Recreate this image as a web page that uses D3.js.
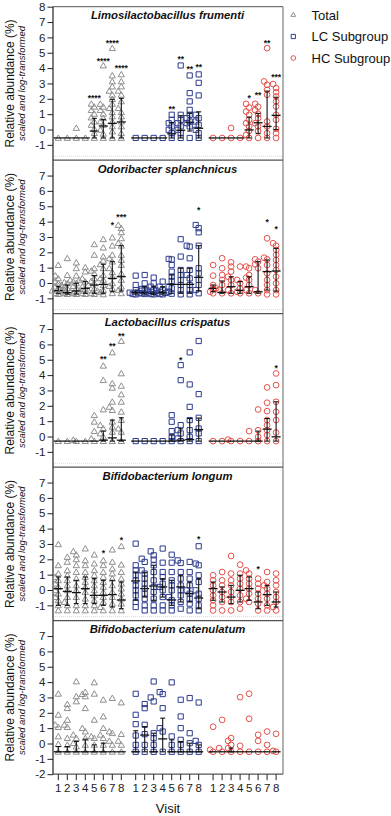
<!DOCTYPE html>
<html>
<head>
<meta charset="utf-8">
<script src="https://cdn.jsdelivr.net/npm/d3@7"></script>
<style>
html, body { margin: 0; padding: 0; background: #fff; }
svg { display: block; font-family: "Liberation Sans", Arial, sans-serif; }
</style>
</head>
<body>
<div id="chart"></div>
<script>
const taxa = ['Limosilactobacillus frumenti', 'Odoribacter splanchnicus', 'Lactobacillus crispatus', 'Bifidobacterium longum', 'Bifidobacterium catenulatum']
const visits = [1, 2, 3, 4, 5, 6, 7, 8]
const groups = ['Total', 'LC Subgroup', 'HC Subgroup']

const totalValues = [
  [[-0.55], [-0.55], [0.1, -0.55], [-0.55],
   [1.67, 1.48, 1.26, 1.02, 0.78, 0.52, 0.3, 0.04, -0.24, -0.55],
   [4.17, 1.67, 1.48, 1.26, 1.02, 0.74, 0.52, 0.3, -0.02, -0.28, -0.55],
   [5.3, 3.52, 3.13, 2.8, 2.52, 2.26, 1.98, 1.67, 1.39, 1.13, 0.85, 0.52, 0.2, -0.13, -0.55],
   [3.59, 3.13, 2.8, 2.52, 2.26, 1.83, 1.39, 1.13, 0.85, 0.52, 0.2, -0.24, -0.55]],
  [[1.17, 0.48, 0.3, 0.09, -0.02, -0.13, -0.24, -0.35, -0.46, -0.5, -0.57, -0.67, -0.72],
   [1.61, 0.52, 0.2, 0.05, -0.02, -0.24, -0.35, -0.46, -0.57, -0.67, -0.72],
   [1.33, 0.96, 0.48, 0.2, 0.09, -0.02, -0.2, -0.35, -0.5, -0.67, -0.72],
   [1.02, 0.74, 0.3, 0.09, -0.13, -0.24, -0.39, -0.5, -0.67, -0.72],
   [2.52, 1.83, 0.96, 0.8, 0.63, 0.3, 0.13, -0.02, -0.35, -0.5, -0.67, -0.72],
   [2.85, 2.3, 1.72, 1.45, 1.22, 0.96, 0.52, 0.3, 0.2, -0.13, -0.46, -0.6, -0.74],
   [2.96, 2.43, 1.83, 1.6, 1.39, 0.96, 0.7, 0.41, -0.02, -0.2, -0.35, -0.67],
   [3.78, 3.57, 3.3, 2.91, 2.6, 2.43, 1.83, 1.5, 1.17, 0.63, 0.2, -0.24, -0.45, -0.67]],
  [[-0.3], [-0.3], [-0.22, -0.3], [-0.3],
   [1.39, 0.96, 0.35, -0.13, -0.3],
   [4.61, 3.67, 1.76, 0.74, 0.52, 0.2, -0.02, -0.3],
   [5.48, 3.46, 3.17, 2.26, 1.93, 1.72, 0.96, 0.63, 0.3, -0.3],
   [6.22, 4.11, 3.3, 2.74, 2.26, 1.61, 1.07, 0.52, 0.3, -0.3]],
  [[2.98, 1.61, 1.07, 0.85, 0.63, 0.41, 0.2, -0.02, -0.24, -0.46, -0.67, -1.0, -1.33],
   [2.15, 1.83, 1.28, 0.96, 0.63, 0.3, -0.02, -0.46, -0.78, -1.0, -1.33],
   [2.52, 2.3, 2.0, 1.61, 1.17, 0.74, 0.3, -0.02, -0.46, -1.0, -1.33],
   [2.7, 1.93, 1.61, 1.17, 0.85, 0.52, 0.2, -0.13, -0.57, -1.0, -1.33],
   [2.3, 1.72, 1.28, 0.96, 0.63, 0.3, -0.02, -0.35, -0.67, -1.0, -1.33],
   [1.93, 1.61, 1.17, 0.85, 0.52, 0.2, -0.13, -0.46, -0.78, -1.11, -1.33],
   [2.63, 1.83, 1.39, 1.07, 0.74, 0.3, -0.13, -0.46, -0.89, -1.33],
   [2.85, 1.65, 1.17, 0.74, 0.41, 0.09, -0.24, -0.57, -0.89, -1.33]],
  [[3.24, 1.87, 1.22, 1.07, 0.46, -0.04, -0.54],
   [2.57, 2.3, 1.54, 1.22, 1.07, 0.35, -0.09, -0.54],
   [4.04, 3.07, 2.74, 0.57, 0.35, 0.02, -0.2, -0.54],
   [3.35, 3.22, 3.07, 2.3, 1.0, 0.78, 0.35, -0.09, -0.54],
   [3.98, 3.24, 1.54, 0.46, 0.35, -0.09, -0.54],
   [2.85, 1.76, 1.0, 0.57, 0.35, -0.09, -0.54],
   [2.96, 0.78, 0.67, 0.17, -0.09, -0.54],
   [2.67, 0.61, 0.17, -0.09, -0.54]]
]

const lcValues = [
  [[-0.55], [-0.55], [-0.55], [-0.55],
   [0.96, 0.63, 0.41, 0.2, -0.02, -0.24, -0.55],
   [4.17, 0.96, 0.63, 0.41, 0.2, -0.02, -0.24, -0.55],
   [3.52, 2.37, 1.83, 1.28, 0.96, 0.74, 0.52, 0.41, 0.2, -0.55],
   [3.59, 3.04, 2.22, 0.96, 0.74, 0.52, 0.3, -0.02, -0.24, -0.55]],
  [[0.48, -0.13, -0.46, -0.5, -0.63, -0.67, -0.72, -0.74],
   [0.52, -0.02, -0.39, -0.45, -0.63, -0.67, -0.72],
   [0.35, -0.02, -0.24, -0.46, -0.5, -0.67, -0.72, -0.74],
   [0.09, -0.24, -0.46, -0.5, -0.65, -0.72, -0.74],
   [1.57, 1.53, 1.17, 0.74, 0.41, 0.13, -0.24, -0.35, -0.57, -0.7],
   [2.85, 1.72, 0.85, 0.52, 0.2, -0.13, -0.46, -0.74],
   [2.43, 2.37, 1.61, 0.85, 0.52, 0.3, -0.13, -0.46, -0.74],
   [3.78, 3.57, 3.3, 2.43, 0.96, 0.63, 0.2, -0.13, -0.46, -0.67]],
  [[-0.3], [-0.3], [-0.3], [-0.3],
   [1.39, 0.96, 0.35, -0.02, -0.3],
   [4.65, 3.67, 0.74, 0.41, 0.2, -0.13, -0.3],
   [5.48, 3.39, 1.93, 1.07, 0.41, -0.02, -0.3],
   [6.22, 2.76, 1.22, 0.52, 0.2, -0.3]],
  [[3.02, 1.61, 1.28, 0.96, 0.63, 0.3, -0.02, -0.35, -0.78, -1.11],
   [2.04, 1.83, 1.28, 1.07, 0.74, 0.41, 0.09, -0.24, -0.57, -1.0, -1.33],
   [2.52, 2.26, 1.98, 1.61, 1.17, 0.63, 0.2, -0.13, -0.57, -1.0, -1.33],
   [2.7, 1.78, 1.17, 0.85, 0.41, 0.2, -0.02, -0.46, -1.0, -1.33],
   [2.3, 1.78, 1.17, 0.63, 0.3, -0.02, -0.46, -0.67, -1.0, -1.33],
   [1.93, 1.76, 1.17, 0.74, 0.3, -0.02, -0.35, -0.78, -1.22],
   [1.83, 1.17, 0.74, 0.3, -0.02, -0.24, -0.57, -0.89, -1.33],
   [2.85, 1.72, 1.61, 0.96, 0.52, -0.02, -0.24, -0.57, -1.0, -1.33]],
  [[3.24, 1.87, 1.26, 0.52, -0.09, -0.54],
   [2.57, 2.3, 1.22, 0.61, -0.09, -0.54],
   [4.04, 3.0, 2.74, 0.67, 0.35, -0.09, -0.54],
   [3.35, 3.22, 2.3, 1.0, 0.78, -0.54],
   [3.98, 0.46, -0.09, -0.54],
   [2.85, 1.76, 1.0, 0.24, -0.09, -0.54],
   [2.96, 0.67, 0.02, -0.54],
   [2.67, 0.17, -0.09, -0.54]]
]

const hcValues = [
  [[-0.55], [-0.55], [0.1, -0.55], [-0.55],
   [1.67, 1.43, 1.17, 0.96, 0.63, 0.41, 0.2, -0.09, -0.35, -0.55],
   [1.67, 1.48, 1.26, 1.02, 0.74, 0.41, 0.2, -0.09, -0.55],
   [5.3, 3.13, 2.91, 2.59, 2.26, 0.52, 0.2, -0.24, -0.55],
   [2.96, 2.7, 2.43, 2.15, 1.83, 1.5, 0.96, 0.63, 0.04, -0.24, -0.55]],
  [[1.17, 0.48, -0.13, -0.35, -0.4, -0.57, -0.67],
   [1.61, 0.96, 0.52, 0.2, -0.13, -0.46, -0.67],
   [1.35, 1.07, 0.74, 0.41, 0.2, -0.13, -0.46, -0.67],
   [1.07, 0.2, -0.02, -0.35, -0.57, -0.67],
   [1.07, 0.96, 0.52, 0.35, 0.2, -0.13, -0.46, -0.67],
   [1.54, 1.39, 1.22, 0.96, -0.46, -0.67],
   [2.91, 1.65, 1.54, 1.17, 0.63, 0.2, -0.13, -0.46, -0.74],
   [2.59, 2.43, 2.15, 1.83, 1.5, 1.17, 0.85, 0.41, -0.02, -0.46, -0.74]],
  [[-0.3], [-0.3], [-0.2, -0.3], [-0.3], [0.35, -0.3],
   [1.76, 0.41, -0.02, -0.3],
   [3.2, 2.2, 1.65, 1.07, 0.74, 0.41, 0.09, -0.3],
   [4.11, 3.35, 2.26, 1.61, 1.07, 0.26, -0.3]],
  [[0.96, 0.63, 0.3, -0.02, -0.35, -0.67, -1.0, -1.33],
   [1.17, 0.63, 0.3, -0.13, -0.46, -0.78, -1.33],
   [2.22, 1.07, 0.63, 0.3, -0.13, -0.46, -0.78, -1.33],
   [1.65, 1.07, 0.74, 0.41, 0.09, -0.35, -0.78, -1.22],
   [1.28, 1.07, 0.74, 0.41, 0.09, -0.24, -0.57, -0.78],
   [0.74, 0.41, 0.09, -0.24, -0.57, -0.89, -1.33],
   [1.17, 0.52, 0.3, 0.09, -0.24, -0.57, -1.0, -1.33],
   [1.07, 0.63, 0.3, -0.13, -0.46, -0.78, -1.11, -1.33]],
  [[1.09, -0.41, -0.54], [1.54, -0.3, -0.54], [0.35, 0.17, -0.09, -0.3, -0.54], [3.02, -0.15, -0.54],
   [3.24, 1.61, -0.54], [0.57, 0.17, -0.54], [0.78, -0.09, -0.54], [0.63, -0.48, -0.54]]
]

// [q1, median, q3] per visit
const totalStats = [
  [[-0.55, -0.55, -0.55], [-0.55, -0.55, -0.55], [-0.55, -0.55, -0.55], [-0.55, -0.55, -0.55],
   [-0.55, -0.1, 0.73], [-0.55, 0.23, 0.66], [-0.55, 0.4, 1.97], [-0.55, 0.49, 2.03]],
  [[-0.67, -0.5, -0.24], [-0.72, -0.63, -0.13], [-0.72, -0.52, -0.02], [-0.67, -0.35, 0.09],
   [-0.67, -0.13, 0.48], [-0.67, -0.09, 1.22], [-0.57, 0.3, 1.39], [-0.52, 0.41, 2.43]],
  [[-0.3, -0.3, -0.3], [-0.3, -0.3, -0.3], [-0.3, -0.3, -0.3], [-0.3, -0.3, -0.3],
   [-0.3, -0.3, -0.3], [-0.3, -0.24, 0.35], [-0.3, -0.09, 1.07], [-0.3, -0.24, 1.22]],
  [[-1.0, 0.09, 0.85], [-1.0, -0.09, 0.85], [-0.89, -0.17, 0.63], [-0.89, 0.09, 0.85],
   [-0.89, -0.35, 0.74], [-1.0, -0.35, 0.63], [-1.11, -0.3, 0.63], [-1.22, -0.65, 0.52]],
  [[-0.54, -0.54, -0.2], [-0.54, -0.54, -0.2], [-0.54, -0.54, 0.13], [-0.54, -0.54, 0.28],
   [-0.54, -0.54, -0.09], [-0.54, -0.54, 0.02], [-0.54, -0.54, -0.54], [-0.54, -0.54, -0.54]]
]

const lcStats = [
  [[-0.55, -0.55, -0.55], [-0.55, -0.55, -0.55], [-0.55, -0.55, -0.55], [-0.55, -0.55, -0.55],
   [-0.55, -0.28, 0.45], [-0.55, -0.05, 0.9], [-0.1, 0.47, 1.05], [-0.55, 0.08, 1.15]],
  [[-0.72, -0.63, -0.46], [-0.72, -0.63, -0.24], [-0.74, -0.67, -0.24], [-0.72, -0.63, -0.24],
   [-0.67, -0.09, 0.52], [-0.67, -0.09, 0.96], [-0.67, -0.09, 0.96], [-0.52, 0.37, 2.43]],
  [[-0.3, -0.3, -0.3], [-0.3, -0.3, -0.3], [-0.3, -0.3, -0.3], [-0.3, -0.3, -0.3],
   [-0.3, -0.3, 0.09], [-0.3, -0.24, 0.5], [-0.3, -0.2, 1.17], [-0.3, 0.45, 1.2]],
  [[-0.67, 0.59, 1.17], [-0.46, 0.09, 1.13], [-0.67, 0.26, 1.61], [-0.46, 0.2, 0.74],
   [-1.0, -0.65, 0.63], [-0.78, 0.2, 0.96], [-0.78, -0.24, 0.52], [-1.22, -0.52, 0.74]],
  [[-0.54, -0.54, 0.83], [-0.54, 0.55, 1.1], [-0.54, -0.54, 0.67], [-0.54, 0.3, 1.65],
   [-0.54, -0.54, 0.24], [-0.54, -0.54, 0.13], [-0.54, -0.54, 0.02], [-0.54, -0.54, -0.09]]
]

const hcStats = [
  [[-0.55, -0.55, -0.55], [-0.55, -0.55, -0.55], [-0.55, -0.55, -0.55], [-0.55, -0.55, -0.55],
   [-0.55, -0.03, 0.8], [-0.27, 0.44, 1.05], [-0.55, 0.2, 2.5], [0.0, 0.92, 2.1]],
  [[-0.57, -0.35, -0.13], [-0.67, -0.61, 0.13], [-0.67, -0.24, 0.41], [-0.67, -0.48, 0.09],
   [-0.67, -0.24, 0.41], [-0.67, -0.57, 1.39], [-0.46, 0.74, 1.5], [-0.52, 0.78, 2.26]],
  [[-0.3, -0.3, -0.3], [-0.3, -0.3, -0.3], [-0.3, -0.3, -0.3], [-0.3, -0.3, -0.3],
   [-0.3, -0.3, -0.3], [-0.3, -0.3, 0.35], [-0.3, 0.48, 1.17], [-0.3, -0.02, 2.26]],
  [[-0.67, 0.09, 0.52], [-0.78, -0.13, 0.2], [-0.89, -0.46, 0.3], [-0.78, -0.02, 0.96],
   [-0.67, 0.09, 0.85], [-1.22, -0.78, -0.13], [-1.0, -0.3, 0.3], [-1.11, -0.78, -0.13]],
  [[-0.54, -0.54, -0.54], [-0.54, -0.54, -0.54], [-0.54, -0.54, -0.3], [-0.54, -0.54, -0.54],
   [-0.54, -0.54, -0.54], [-0.54, -0.54, -0.54], [-0.54, -0.54, -0.54], [-0.54, -0.54, -0.54]]
]

// significance label and the value level it sits at
const totalStars = [
  [null, null, null, null, ['****', 2.15], ['****', 4.61], ['****', 5.78], ['****', 4.15]],
  [null, null, null, null, null, null, ['*', 3.87], ['***', 4.43]],
  [null, null, null, null, null, ['**', 5.2], ['**', 6.0], ['**', 6.7]],
  [null, null, null, null, null, ['*', 2.52], null, ['*', 3.35]],
  [null, null, null, null, null, null, null, null]
]
const lcStars = [
  [null, null, null, null, ['**', 1.46], ['**', 4.7], ['**', 4.07], ['**', 4.17]],
  [null, null, null, null, null, null, null, ['*', 4.87]],
  [null, null, null, null, null, ['*', 5.13], null, null],
  [null, null, null, null, null, null, null, ['*', 3.46]],
  [null, null, null, null, null, null, null, null]
]
const hcStars = [
  [null, null, null, null, ['*', 2.15], ['**', 2.37], ['**', 5.78], ['***', 3.57]],
  [null, null, null, null, null, null, ['*', 4.07], ['*', 3.67]],
  [null, null, null, null, null, null, null, ['*', 4.61]],
  [null, null, null, null, null, ['*', 1.5], null, null],
  [null, null, null, null, null, null, null, null]
]

const W = 391, H = 816
const left = 53, right = 283, top0 = 6.7, panelH = 153.5
const colors = ['#8e8e8e', '#2c3b8e', '#e4514c']
const symbols = [d3.symbol(d3.symbolTriangle, 17), d3.symbol(d3.symbolSquare, 27), d3.symbol(d3.symbolCircle, 26)]

const svg = d3.select('#chart').append('svg').attr('width', W).attr('height', H)

// visits sit in three blocks of eight with a gap between blocks
const x = d3.scaleLinear().domain([0, 24.2]).range([58.3, 276.1])
const slot = (g, v) => g * 8.6 + (v - 1)

// spread out points that would overlap, like a column scatter
function spread(values, y) {
  const placed = []
  const offs = [0, -3, 3, -6, 6]
  values.slice().sort((a, b) => a - b).forEach(v => {
    const py = y(v)
    if (placed.find(p => p.v === v)) return
    let dx = offs.find(o => !placed.some(p => Math.abs(p.dx - o) < 2.9 && Math.abs(p.py - py) < 4))
    if (dx === undefined) dx = 0
    placed.push({ v, py, dx })
  })
  return placed
}

const valueSets = [totalValues, lcValues, hcValues]
const statSets = [totalStats, lcStats, hcStats]
const starSets = [totalStars, lcStars, hcStars]

taxa.forEach((name, k) => {
  const pTop = top0 + k * panelH
  const pBot = pTop + panelH
  const y = d3.scaleLinear().domain([-2, 8]).range([pBot, pTop])
  const g = svg.append('g').attr('class', 'panel')

  // frame
  if (k === 0) g.append('line').attr('x1', left).attr('x2', right).attr('y1', pTop).attr('y2', pTop).attr('stroke', '#555').attr('stroke-width', 1)
  g.append('line').attr('x1', right).attr('x2', right).attr('y1', pTop).attr('y2', pBot).attr('stroke', '#666').attr('stroke-width', 1)
  if (k < 4) {
    g.append('line').attr('x1', left).attr('x2', right).attr('y1', pBot - 4).attr('y2', pBot - 4)
      .attr('stroke', '#ccc').attr('stroke-width', 0.8).attr('stroke-dasharray', '1,1')
  }
  g.append('line').attr('x1', left).attr('x2', right).attr('y1', pBot).attr('y2', pBot).attr('stroke', '#555').attr('stroke-width', 1.2)

  // y axis
  const ticks = k === 0 ? d3.range(-1, 9) : k === 4 ? d3.range(-2, 8) : d3.range(-1, 8)
  const ax = g.append('g').attr('transform', `translate(${left},0)`)
    .call(d3.axisLeft(y).tickValues(ticks).tickSize(5.5).tickSizeOuter(0).tickPadding(2).tickFormat(d3.format('d')))
  ax.select('.domain').remove()
  ax.selectAll('.tick line').attr('stroke', '#222')
  ax.selectAll('.tick text').attr('font-size', 11.5).attr('fill', '#222')
    .attr('font-family', '"Liberation Sans", Arial, sans-serif').text(d => d < 0 ? '-' + Math.abs(d) : d)
  g.append('line').attr('x1', left).attr('x2', left).attr('y1', pTop).attr('y2', pBot).attr('stroke', '#222').attr('stroke-width', 1.2)

  // axis title
  const cy = (pTop + pBot) / 2
  g.append('text').attr('transform', `translate(13.5,${cy}) rotate(-90)`).attr('text-anchor', 'middle')
    .attr('font-size', 12).attr('fill', '#111').text('Relative abundance (%)')
  g.append('text').attr('transform', `translate(24.5,${cy}) rotate(-90)`).attr('text-anchor', 'middle')
    .attr('font-size', 9.5).attr('font-style', 'italic').attr('fill', '#111').text('scaled and log-transformed')

  // panel title
  g.append('text').attr('x', 167.5).attr('y', pTop + 12.5).attr('text-anchor', 'middle')
    .attr('font-size', 11.3).attr('font-weight', 'bold').attr('font-style', 'italic').attr('fill', '#111').text(name)

  groups.forEach((grp, gi) => {
    visits.forEach((v, vi) => {
      const cx = x(slot(gi, v))
      const pts = spread(valueSets[gi][k][vi], y)
      g.append('g').selectAll('path').data(pts).join('path')
        .attr('d', symbols[gi])
        .attr('transform', d => `translate(${cx + d.dx},${d.py + (gi === 0 ? 0.6 : 0)})`)
        .attr('fill', 'none').attr('stroke', colors[gi]).attr('stroke-width', 1)

      const [q1, med, q3] = statSets[gi][k][vi]
      const eb = g.append('g').attr('stroke', '#111').attr('stroke-width', 1.1)
      if (q3 > q1) {
        eb.append('line').attr('x1', cx).attr('x2', cx).attr('y1', y(q1)).attr('y2', y(q3))
        eb.append('line').attr('x1', cx - 2.5).attr('x2', cx + 2.5).attr('y1', y(q1)).attr('y2', y(q1))
        eb.append('line').attr('x1', cx - 2.5).attr('x2', cx + 2.5).attr('y1', y(q3)).attr('y2', y(q3))
      }
      eb.append('line').attr('x1', cx - 4.5).attr('x2', cx + 4.5).attr('y1', y(med)).attr('y2', y(med)).attr('stroke-width', 1.3)

      const st = starSets[gi][k][vi]
      if (st) {
        g.append('text').attr('x', cx).attr('y', y(st[1]) + 4.9).attr('text-anchor', 'middle')
          .attr('font-size', 8.5).attr('font-weight', 'bold').attr('fill', '#111').text(st[0])
      }
    })
  })

  // x axis on the last panel
  if (k === 4) {
    const xa = svg.append('g')
    groups.forEach((grp, gi) => {
      visits.forEach(v => {
        const cx = x(slot(gi, v))
        xa.append('line').attr('x1', cx).attr('x2', cx).attr('y1', pBot).attr('y2', pBot + 6).attr('stroke', '#222').attr('stroke-width', 1)
        xa.append('text').attr('x', cx).attr('y', pBot + 18).attr('text-anchor', 'middle').attr('font-size', 11.5).attr('fill', '#222').text(v)
      })
    })
    xa.append('text').attr('x', 168).attr('y', 813).attr('text-anchor', 'middle').attr('font-size', 13).attr('fill', '#111').text('Visit')
  }
})

// legend
const leg = svg.append('g')
groups.forEach((grp, gi) => {
  const ly = 15 + gi * 21.5
  leg.append('path').attr('d', d3.symbol([d3.symbolTriangle, d3.symbolSquare, d3.symbolCircle][gi], [10, 18, 17][gi]))
    .attr('transform', `translate(293.3,${ly})`).attr('fill', 'none').attr('stroke', colors[gi]).attr('stroke-width', 1)
  leg.append('text').attr('x', 311.5).attr('y', ly + 4.7).attr('font-size', 13).attr('fill', '#111').text(grp)
})
</script>
</body>
</html>
